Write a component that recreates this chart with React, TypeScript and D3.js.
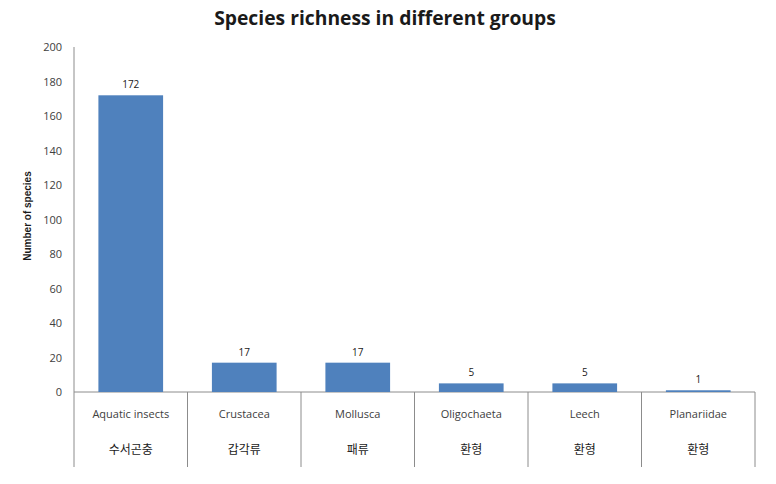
import React from "react";
import * as d3 from "d3";

const categories = ["Aquatic insects", "Crustacea", "Mollusca", "Oligochaeta", "Leech", "Planariidae"];
const koreanLabels = ["수서곤충", "갑각류", "패류", "환형", "환형", "환형"];
const values = [172, 17, 17, 5, 5, 1];
const yTicks = [0, 20, 40, 60, 80, 100, 120, 140, 160, 180, 200];

const W = 776;
const H = 484;
const left = 74;
const right = 755;
const top = 47;
const bottom = 392;
const labelBottom = 467;

export default function App() {
  const x = d3.scaleBand<string>().domain(categories).range([left, right]).paddingInner(0.43).paddingOuter(0.215);
  const bands = d3.scaleBand<string>().domain(categories).range([left, right]);
  const y = d3.scaleLinear().domain([0, 200]).range([bottom, top]);
  const axisColor = "#8c8c8c";
  const textColor = "#404040";
  return (
    <svg width={W} height={H} style={{ position: "absolute", left: 0, top: 0, background: "#fff" }}>
      <text x={385} y={25} textAnchor="middle" fontFamily="'Open Sans', sans-serif" fontWeight="bold" fontSize={19.3} fill="#1a1a1a">
        Species richness in different groups
      </text>
      <text
        transform={`translate(31, 216) rotate(-90)`}
        textAnchor="middle"
        fontFamily="'Liberation Sans Narrow', 'Liberation Sans', sans-serif"
        fontWeight="bold"
        fontSize={10}
        fill="#1a1a1a"
      >
        Number of species
      </text>
      {yTicks.map((t) => (
        <text key={t} x={62} y={y(t) + 4} textAnchor="end" fontFamily="'Open Sans', sans-serif" fontSize={11} fill={textColor}>
          {t}
        </text>
      ))}
      <line x1={left} x2={left} y1={top} y2={labelBottom} stroke={axisColor} strokeWidth={1} />
      <line x1={left} x2={right} y1={bottom} y2={bottom} stroke={axisColor} strokeWidth={1} />
      {categories.map((c) => (
        <line key={"d" + c} x1={(bands(c) as number) + bands.bandwidth()} x2={(bands(c) as number) + bands.bandwidth()} y1={bottom} y2={labelBottom} stroke={axisColor} strokeWidth={1} />
      ))}
      {categories.map((c, i) => (
        <g key={c}>
          <rect x={x(c)} y={y(values[i])} width={x.bandwidth()} height={bottom - y(values[i])} fill="#4f81bd" />
          <text x={(x(c) as number) + x.bandwidth() / 2} y={y(values[i]) - 7} textAnchor="middle" fontFamily="'Open Sans', sans-serif" fontSize={10} fill="#1a1a1a">
            {values[i]}
          </text>
          <text x={(bands(c) as number) + bands.bandwidth() / 2} y={418} textAnchor="middle" fontFamily="'Open Sans', sans-serif" fontSize={11} fill={textColor}>
            {c}
          </text>
          <text x={(bands(c) as number) + bands.bandwidth() / 2} y={454} textAnchor="middle" fontFamily="'Noto Sans CJK KR', sans-serif" fontSize={12} fill="#1a1a1a">
            {koreanLabels[i]}
          </text>
        </g>
      ))}
    </svg>
  );
}
